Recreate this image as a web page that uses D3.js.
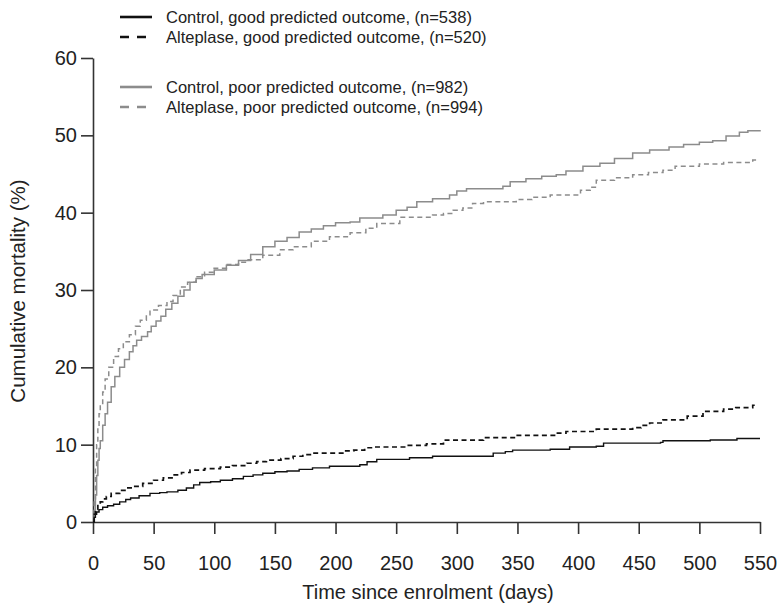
<!DOCTYPE html>
<html>
<head>
<meta charset="utf-8">
<script src="https://cdn.jsdelivr.net/npm/d3@7"></script>
<style>
  body { margin: 0; background: #fff; }
  text { font-family: "Liberation Sans", Arial, sans-serif; fill: #222; }
</style>
</head>
<body>
<div id="chart"></div>
<script>
// Cumulative mortality step curves, [day, percent]
var controlGood = [[0,0],[1,0.6],[2,1],[3,1.3],[5,1.6],[8,1.9],[12,2.1],[17,2.3],[22,2.6],[27,2.9],[31,3.1],[38,3.4],[47,3.7],[55,3.8],[61,3.9],[70,4.1],[77,4.4],[83,4.8],[88,5.1],[97,5.2],[105,5.4],[115,5.6],[124,5.9],[132,6.1],[140,6.3],[150,6.5],[160,6.6],[170,6.8],[181,7.0],[195,7.2],[212,7.2],[220,7.4],[226,7.8],[234,8.1],[261,8.3],[280,8.5],[327,8.5],[330,8.9],[340,9.1],[346,9.3],[377,9.4],[393,9.7],[415,9.8],[421,10.2],[468,10.3],[470,10.5],[509,10.6],[531,10.8],[550,10.8]];
var alteplaseGood = [[0,0],[1,1],[2,1.6],[4,2.3],[6,2.6],[8,3],[11,3.3],[15,3.7],[22,4.1],[28,4.4],[33,4.6],[41,5],[50,5.4],[58,5.7],[66,6.1],[73,6.4],[80,6.7],[92,6.9],[105,7.1],[115,7.3],[127,7.6],[135,7.8],[143,8.0],[155,8.2],[165,8.5],[173,8.7],[181,8.9],[206,9.2],[215,9.3],[224,9.6],[231,9.7],[260,9.9],[275,10.1],[289,10.6],[322,10.9],[349,11.2],[382,11.5],[390,11.7],[415,12.0],[445,12.2],[452,12.5],[459,12.8],[470,13.2],[490,13.7],[503,14.3],[520,14.6],[530,14.8],[544,15.1],[548,15.1]];
var controlPoor = [[0,0],[1,1.5],[2,3.5],[3,6],[4,8],[5,9.5],[6,10.5],[8,12.5],[10,14],[12,15.5],[15,17.5],[18,18.8],[22,20],[26,21],[30,22],[33,22.8],[36,23.5],[40,24],[45,24.6],[48,25.3],[52,26],[56,26.6],[60,27.5],[65,28.3],[70,29.2],[75,30],[80,31],[85,31.5],[90,32],[100,32.6],[110,33.2],[120,33.8],[130,34.6],[140,35.6],[150,36.3],[160,36.8],[170,37.5],[180,37.9],[190,38.3],[200,38.7],[212,38.8],[220,39.3],[239,39.7],[250,40.3],[259,40.7],[267,41.4],[280,41.8],[294,42.3],[300,42.8],[308,43.1],[330,43.1],[338,43.4],[344,44.0],[357,44.4],[370,44.7],[382,44.9],[390,45.4],[404,46.0],[418,46.4],[430,47.0],[445,47.7],[459,48.1],[475,48.5],[487,48.8],[500,49.1],[511,49.3],[522,49.9],[533,50.4],[540,50.6],[550,50.7]];
var alteplasePoor = [[0,0],[1,3],[2,7],[3,10],[4,12.5],[5,14],[6,15],[8,16.8],[10,18.5],[13,20],[17,21.4],[21,22.4],[25,23.3],[30,24.2],[35,25.3],[39,26.1],[44,26.8],[47,27.4],[54,28],[61,28.5],[66,29.3],[72,30.4],[78,31],[85,31.7],[92,32.3],[99,32.8],[110,33.3],[120,33.6],[127,33.9],[140,34.5],[154,35.2],[165,35.6],[180,36.3],[195,36.9],[212,37.4],[225,38],[234,38.6],[253,39.4],[272,39.4],[280,39.7],[289,39.9],[297,40.3],[305,40.6],[313,41.2],[322,41.4],[349,41.7],[362,42],[377,42.3],[402,42.9],[410,43.3],[415,44.2],[430,44.5],[445,44.9],[458,45.2],[470,45.5],[480,46],[500,46.3],[520,46.5],[544,46.8],[548,46.8]];

var xTicks = [0,50,100,150,200,250,300,350,400,450,500,550];
var yTicks = [0,10,20,30,40,50,60];

var seriesNames = ["Control, good predicted outcome, (n=538)",
                   "Alteplase, good predicted outcome, (n=520)",
                   "Control, poor predicted outcome, (n=982)",
                   "Alteplase, poor predicted outcome, (n=994)"];

var W = 778, H = 606;
var margin = {top: 58, right: 18, bottom: 84, left: 93};
var width = W - margin.left - margin.right,
    height = H - margin.top - margin.bottom;

var svg = d3.select("#chart").append("svg")
    .attr("width", W).attr("height", H);

var g = svg.append("g")
    .attr("transform", "translate(" + margin.left + "," + margin.top + ")");

var x = d3.scaleLinear().domain([0, 550]).range([0, width]);
var y = d3.scaleLinear().domain([0, 60]).range([height, 0]);

// axes
g.append("g")
    .attr("transform", "translate(0," + height + ")")
    .call(d3.axisBottom(x).tickValues(xTicks).tickSize(12).tickSizeOuter(0).tickPadding(22));
g.append("g")
    .call(d3.axisLeft(y).tickValues(yTicks).tickSize(12).tickSizeOuter(0).tickPadding(4));

g.selectAll(".domain, .tick line")
    .attr("stroke", "#333").attr("stroke-width", 1.6);
g.selectAll(".tick text")
    .style("font-size", "20px")
    .style("font-family", "'Liberation Sans', Arial, sans-serif")
    .attr("fill", "#222");

// curves
var line = d3.line()
    .x(function(d) { return x(d[0]); })
    .y(function(d) { return y(d[1]); })
    .curve(d3.curveStepAfter);

var series = [
  {data: controlPoor, color: "#8c8c8c", dash: null, w: 1.5},
  {data: alteplasePoor, color: "#8c8c8c", dash: "5,3.5", w: 1.5},
  {data: controlGood, color: "#111", dash: null, w: 1.4},
  {data: alteplaseGood, color: "#111", dash: "5,3.5", w: 1.7}
];

g.selectAll(".curve")
    .data(series)
    .enter().append("path")
    .attr("class", "curve")
    .attr("d", function(d) { return line(d.data); })
    .attr("fill", "none")
    .attr("stroke", function(d) { return d.color; })
    .attr("stroke-width", function(d) { return d.w; })
    .attr("stroke-dasharray", function(d) { return d.dash; });

// legend
var legend = [
  {name: seriesNames[0], color: "#111", dash: null, y: 17},
  {name: seriesNames[1], color: "#111", dash: "9,8", y: 37},
  {name: seriesNames[2], color: "#8c8c8c", dash: null, y: 87},
  {name: seriesNames[3], color: "#8c8c8c", dash: "9,8", y: 107}
];

var lg = svg.selectAll(".legend")
    .data(legend)
    .enter().append("g")
    .attr("class", "legend")
    .attr("transform", function(d) { return "translate(120," + d.y + ")"; });

lg.append("line")
    .attr("x1", 0).attr("x2", 32)
    .attr("stroke", function(d) { return d.color; })
    .attr("stroke-width", 2.6)
    .attr("stroke-dasharray", function(d) { return d.dash; });

lg.append("text")
    .attr("x", 46).attr("dy", "0.35em")
    .style("font-size", "16.5px")
    .text(function(d) { return d.name; });

// axis titles
svg.append("text")
    .attr("x", 428)
    .attr("y", 599)
    .attr("text-anchor", "middle")
    .style("font-size", "20px")
    .text("Time since enrolment (days)");

svg.append("text")
    .attr("transform", "translate(18,291) rotate(-90)")
    .attr("dy", "0.35em")
    .attr("text-anchor", "middle")
    .style("font-size", "20.5px")
    .text("Cumulative mortality (%)");
</script>
</body>
</html>
